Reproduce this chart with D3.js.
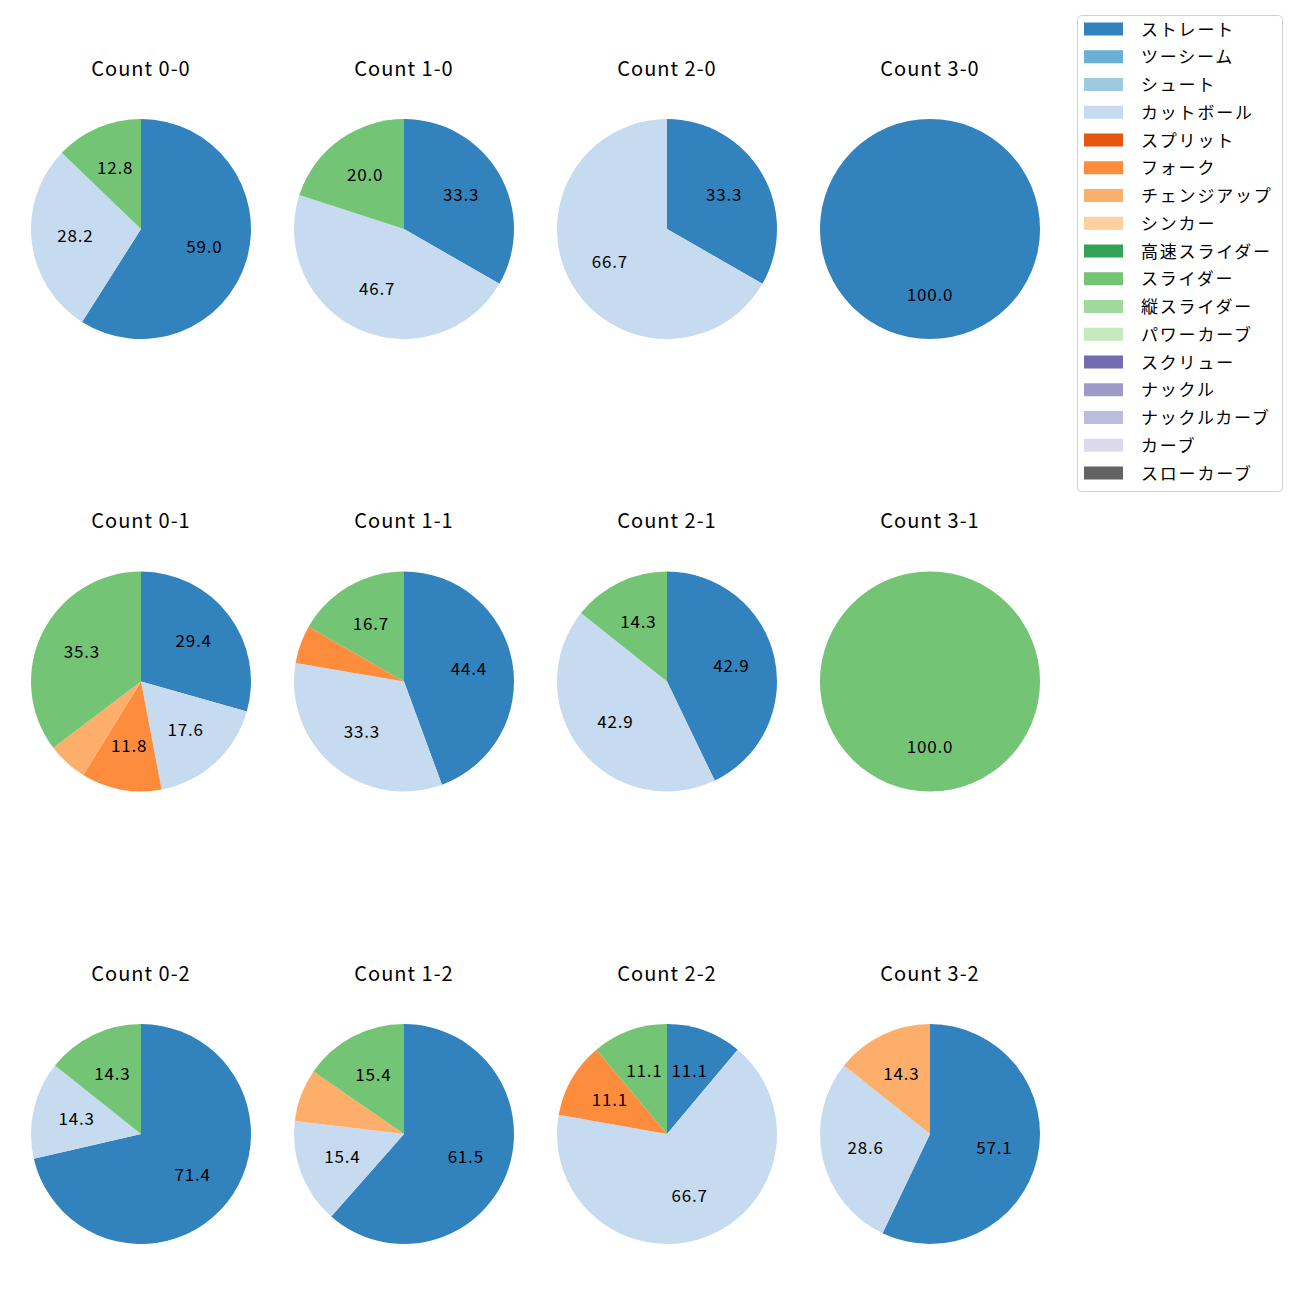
<!DOCTYPE html>
<html><head><meta charset="utf-8">
<script src="https://cdn.jsdelivr.net/npm/d3@7"></script>
<style>body{margin:0;background:#fff}svg{display:block}text{font-family:"Noto Sans CJK JP","Noto Sans",sans-serif}</style>
</head><body>
<script>
const categories = ["ストレート","ツーシーム","シュート","カットボール","スプリット","フォーク","チェンジアップ","シンカー","高速スライダー","スライダー","縦スライダー","パワーカーブ","スクリュー","ナックル","ナックルカーブ","カーブ","スローカーブ"];
const colors = ["#3182bd","#6baed6","#9ecae1","#c6dbef","#e6550d","#fd8d3c","#fdae6b","#fdd0a2","#31a354","#74c476","#a1d99b","#c7e9c0","#756bb1","#9e9ac8","#bcbddc","#dadaeb","#636363"];
const panelTitles = ["Count 0-0","Count 1-0","Count 2-0","Count 3-0","Count 0-1","Count 1-1","Count 2-1","Count 3-1","Count 0-2","Count 1-2","Count 2-2","Count 3-2"];
// percentages per panel, keyed by pitch type
const count00 = {"ストレート":59.0,"カットボール":28.2,"スライダー":12.8};
const count10 = {"ストレート":33.3,"カットボール":46.7,"スライダー":20.0};
const count20 = {"ストレート":33.3,"カットボール":66.7};
const count30 = {"ストレート":100.0};
const count01 = {"ストレート":29.4,"カットボール":17.6,"フォーク":11.8,"チェンジアップ":5.9,"スライダー":35.3};
const count11 = {"ストレート":44.4,"カットボール":33.3,"フォーク":5.6,"スライダー":16.7};
const count21 = {"ストレート":42.9,"カットボール":42.9,"スライダー":14.3};
const count31 = {"スライダー":100.0};
const count02 = {"ストレート":71.4,"カットボール":14.3,"スライダー":14.3};
const count12 = {"ストレート":61.5,"カットボール":15.4,"チェンジアップ":7.7,"スライダー":15.4};
const count22 = {"ストレート":11.1,"カットボール":66.7,"フォーク":11.1,"スライダー":11.1};
const count32 = {"ストレート":57.1,"カットボール":28.6,"チェンジアップ":14.3};
const panels = [count00,count10,count20,count30,count01,count11,count21,count31,count02,count12,count22,count32];

const W = 1300, H = 1300;
const svg = d3.select("body").append("svg").attr("width",W).attr("height",H);
const color = d3.scaleOrdinal().domain(categories).range(colors);
const colX = d3.scalePoint().domain([0,1,2,3]).range([141,930]);
const rowY = d3.scalePoint().domain([0,1,2]).range([229,1134]);
const R = 110;
const pie = d3.pie().sort(null).value(d=>d.v);
const arc = d3.arc().innerRadius(0).outerRadius(R);
const labelArc = d3.arc().innerRadius(R*0.6).outerRadius(R*0.6);

panels.forEach((p,i)=>{
  const col = i%4, row = Math.floor(i/4);
  const g = svg.append("g").attr("transform",`translate(${colX(col)},${rowY(row)})`);
  const data = categories.filter(c=>p[c]!==undefined).map(c=>({k:c,v:p[c]}));
  const arcs = pie(data);
  g.selectAll("path").data(arcs).enter().append("path")
    .attr("d",arc).attr("fill",d=>color(d.data.k));
  g.selectAll("text.lbl").data(arcs.filter(d=>d.data.v>=10)).enter().append("text")
    .attr("class","lbl")
    .attr("transform",d=>{ if(d.data.v>=100) return `translate(0,${R*0.6-2})`; const c=labelArc.centroid(d); return `translate(${c[0]},${c[1]-2})`;})
    .attr("text-anchor","middle").attr("dominant-baseline","central")
    .attr("font-size",17).attr("letter-spacing",0.8).attr("fill","#000")
    .text(d=>d.data.v.toFixed(1));
  g.append("text").attr("x",0).attr("y",-R-52).attr("text-anchor","middle").attr("dominant-baseline","central")
    .attr("font-size",20).attr("letter-spacing",1).attr("fill","#000").text(panelTitles[i]);
});

// legend
const lg = svg.append("g");
lg.append("rect").attr("x",1077.5).attr("y",15.5).attr("width",205).attr("height",476).attr("rx",4)
  .attr("fill","#fff").attr("stroke","#d0d0d0");
const ly = d3.scaleLinear().domain([0,categories.length-1]).range([29,473]);
categories.forEach((c,i)=>{
  lg.append("rect").attr("x",1084).attr("y",ly(i)-6.5).attr("width",39).attr("height",13).attr("fill",colors[i]);
  lg.append("text").attr("x",1141).attr("y",ly(i)-1).attr("dominant-baseline","central")
    .attr("font-size",17).attr("letter-spacing",1.8).attr("fill","#000").text(c);
});
</script>
</body></html>
